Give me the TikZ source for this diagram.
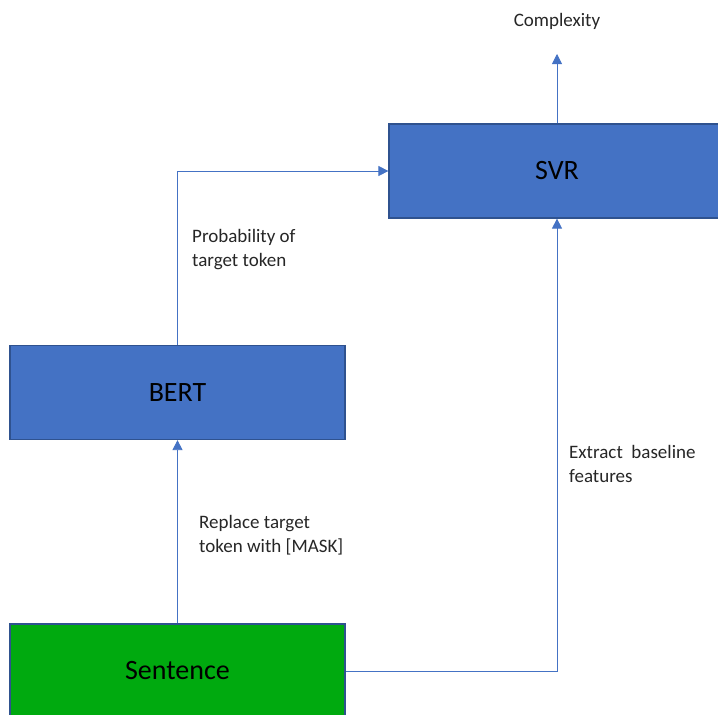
\documentclass[tikz,border=0pt]{standalone}
\usepackage{fontspec}
\setmainfont{Carlito}
\usetikzlibrary{arrows.meta}
\definecolor{boxblue}{HTML}{4472C4}
\definecolor{edgeblue}{HTML}{2F528F}
\definecolor{boxgreen}{HTML}{00AA0F}
\definecolor{linkblue}{HTML}{4472C4}
\tikzset{
  box/.style={draw=edgeblue, line width=1.2pt, minimum height=94pt, inner sep=0pt, font=\fontsize{28}{32}\selectfont, text=black},
  link/.style={draw=linkblue, line width=0.8pt, -{Triangle[length=10pt,width=10pt]}},
  lab/.style={font=\fontsize{19}{24}\selectfont, align=left, anchor=west, inner sep=0pt, text=black!85}
}
\newcommand{\boxtext}[1]{\raisebox{-2pt}{#1}}
\begin{document}
\begin{tikzpicture}[x=1pt,y=-1pt]
\useasboundingbox (0,0) rectangle (718,715);
\node[box, fill=boxblue, minimum width=336pt] (svr) at (557,171) {\boxtext{SVR}};
\node[box, fill=boxblue, minimum width=335pt] (bert) at (177.5,392.5) {\boxtext{BERT}};
\node[box, fill=boxgreen, minimum width=335pt] (sent) at (177.5,671) {\boxtext{Sentence}};
\node[font=\fontsize{19}{24}\selectfont, inner sep=0pt, text=black!85] (cx) at (557,21.5) {Complexity};
\coordinate (cxin) at (557,54);
\coordinate (turn1) at (177.5,171);
\coordinate (turn2) at (557,671);
\draw[link] (sent.north) -- (bert.south);
\draw[link] (bert.north) -- (turn1) -- (svr.west);
\draw[link] (sent.east) -- (turn2) -- (svr.south);
\draw[link] (svr.north) -- (cxin);
\node[lab] (l1) at (192,250) {Probability of\\target token};
\node[lab] (l2) at (199,535) {Replace target\\token with [MASK]};
\node[lab] (l3) at (569,464) {Extract\ \ baseline\\features};
\end{tikzpicture}
\end{document}
